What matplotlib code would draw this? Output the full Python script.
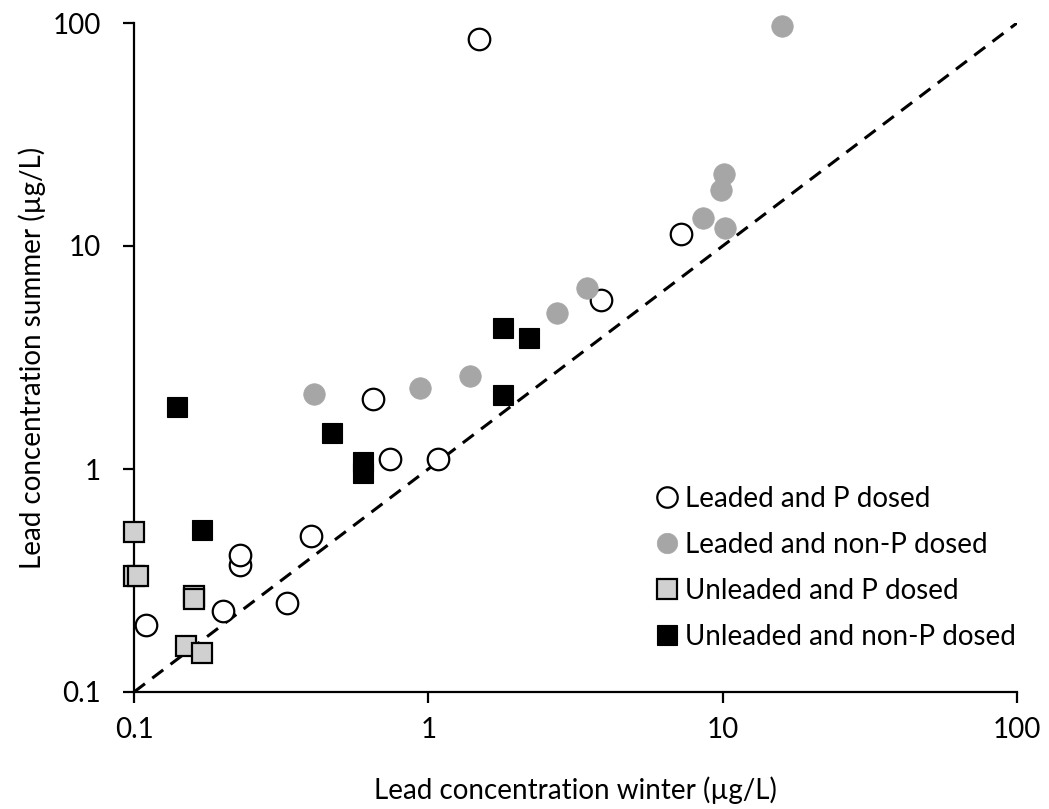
import numpy as np
import matplotlib
matplotlib.use("Agg")
import matplotlib.pyplot as plt

# ================================
# DATA
# ================================
leaded_p_x = [0.11, 0.20, 0.23, 0.23, 0.33, 0.40, 0.65, 0.74, 1.08, 3.86, 7.2, 1.49]
leaded_p_y = [0.20, 0.23, 0.37, 0.41, 0.25, 0.50, 2.07, 1.11, 1.11, 5.7, 11.3, 85]

leaded_np_x = [0.41, 0.94, 1.39, 2.73, 3.45, 8.6, 10.2, 9.85, 10.1, 15.9]
leaded_np_y = [2.16, 2.31, 2.61, 5.0, 6.5, 13.3, 12.0, 17.8, 21.0, 97]

unleaded_p_x = [0.10, 0.10, 0.103, 0.16, 0.16, 0.15, 0.17]
unleaded_p_y = [0.52, 0.33, 0.33, 0.27, 0.26, 0.16, 0.15]

unleaded_np_x = [0.14, 0.47, 0.60, 0.60, 0.17, 1.8, 2.2, 1.8]
unleaded_np_y = [1.9, 1.45, 1.07, 0.96, 0.53, 4.3, 3.85, 2.14]

one_to_one = [0.1, 100]
ticks = [0.1, 1, 10, 100]
tick_labels = ["0.1", "1", "10", "100"]

plt.rcParams["font.family"] = ["Lato", "DejaVu Sans"]

W, H = 1049, 809
fig = plt.figure(figsize=(W / 100, H / 100), dpi=100)
ax = fig.add_axes([134 / W, 1 - 692 / H, (1017 - 134) / W, (692 - 23) / H])

# 1:1 line
ax.plot(one_to_one, one_to_one, color="black", lw=2.2, dashes=(4.5, 3), zorder=1)

ax.plot(leaded_p_x, leaded_p_y, ls="none", marker="o", ms=15.5, mfc="white",
        mec="black", mew=1.6, label="Leaded and P dosed", zorder=3, clip_on=False)
ax.plot(leaded_np_x, leaded_np_y, ls="none", marker="o", ms=15.5, mfc="#a6a6a6",
        mec="#a6a6a6", mew=0.5, label="Leaded and non-P dosed", zorder=3, clip_on=False)
ax.plot(unleaded_p_x, unleaded_p_y, ls="none", marker="s", ms=14.5, mfc="#d0d0d0",
        mec="black", mew=1.6, label="Unleaded and P dosed", zorder=3, clip_on=False)
ax.plot(unleaded_np_x, unleaded_np_y, ls="none", marker="s", ms=14.5, mfc="black",
        mec="black", mew=0.8, label="Unleaded and non-P dosed", zorder=3, clip_on=False)

ax.set_xscale("log")
ax.set_yscale("log")
ax.set_xlim(0.1, 100)
ax.set_ylim(0.1, 100)
ax.set_xticks(ticks)
ax.set_xticklabels(tick_labels)
ax.set_yticks(ticks)
ax.set_yticklabels(tick_labels)
ax.minorticks_off()

for side in ["top", "right"]:
    ax.spines[side].set_visible(False)
for side in ["left", "bottom"]:
    ax.spines[side].set_linewidth(1.6)
ax.tick_params(axis="both", direction="out", length=7.7, width=1.6, labelsize=20)
ax.tick_params(axis="x", pad=10)
ax.tick_params(axis="y", pad=16)

ax.set_xlabel("Lead concentration winter (µg/L)", fontsize=20, labelpad=24)
ax.set_ylabel("Lead concentration summer (µg/L)", fontsize=20, labelpad=5)

leg = ax.legend(loc="upper left", bbox_to_anchor=(656 / W, 1 - 486 / H),
                bbox_transform=fig.transFigure, frameon=False, fontsize=20,
                handlelength=0.8, handletextpad=0.25, labelspacing=0.72,
                borderpad=0, borderaxespad=0, markerscale=0.95)

fig.savefig("out.png", dpi=100)
